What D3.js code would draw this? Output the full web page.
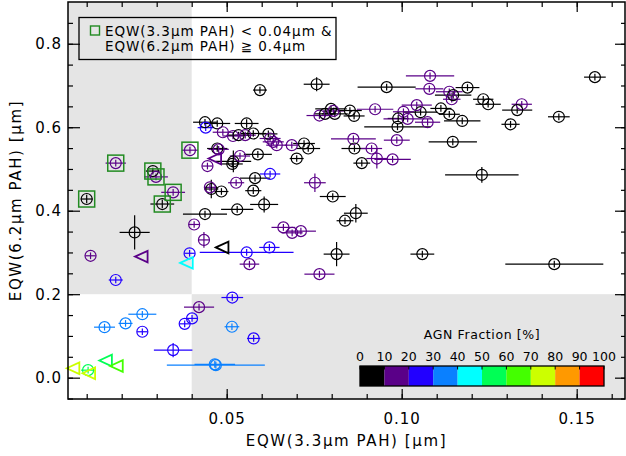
<!DOCTYPE html>
<html>
<head>
<meta charset="utf-8">
<script src="https://cdn.jsdelivr.net/npm/d3@7"></script>
<style>
  body { margin: 0; background: #fff; }
  text { font-family: "DejaVu Sans", sans-serif; fill: #000; }
</style>
</head>
<body>
<svg id="chart" width="626" height="456"></svg>
<script>
/* Data: EQW(3.3um PAH), EQW(6.2um PAH), their errors [um], AGN fraction [%] */
const eqw33 = [
  0.0100, 0.0183, 0.0289, 0.0298, 0.0316, 0.0347, 0.0395,
  0.0438, 0.0473, 0.0440, 0.0489, 0.0557, 0.0518, 0.0534, 0.0553, 0.0576, 0.0619,
  0.0624, 0.0633, 0.0643, 0.0686, 0.0721, 0.0733, 0.0700,
  0.0473, 0.0477, 0.0445, 0.0519, 0.0516, 0.0538, 0.0589, 0.0624, 0.0581, 0.0527,
  0.0576, 0.0456, 0.0452, 0.0485, 0.0752, 0.0803, 0.0438, 0.0530, 0.0607, 0.0869, 0.0838,
  0.0595, 0.0757, 0.0957, 0.0809, 0.0765, 0.0781, 0.0798, 0.0805, 0.0852, 0.0864,
  0.0924, 0.0862, 0.0865, 0.0914, 0.0886, 0.0929, 0.0974, 0.0986, 0.1081, 0.1079,
  0.1136, 0.1147, 0.1188, 0.1143, 0.1233, 0.1247, 0.1343, 0.1330, 0.1552, 0.1449,
  0.1311, 0.1173, 0.1136, 0.1112, 0.1054, 0.1043, 0.1005, 0.0990, 0.0988, 0.1017,
  0.1074, 0.1146, 0.1229,
  0.0237, 0.0111, 0.0183, 0.0394, 0.0407, 0.0435, 0.0662, 0.0687, 0.0712, 0.0814,
  0.0765, 0.0622, 0.0557, 0.0565, 0.1059, 0.1436,
  0.0516, 0.0421, 0.0259, 0.0211, 0.0151, 0.0259, 0.0401, 0.0380, 0.0515, 0.0577,
  0.0347, 0.0469, 0.0466, 0.0104
];
const eqw62 = [
  0.428, 0.514, 0.495, 0.481, 0.416, 0.444, 0.545,
  0.612, 0.609, 0.599, 0.588, 0.609, 0.579, 0.581, 0.581, 0.585, 0.584,
  0.573, 0.565, 0.557, 0.557, 0.561, 0.549, 0.525,
  0.549, 0.547, 0.507, 0.518, 0.512, 0.531, 0.535, 0.488, 0.478, 0.467,
  0.448, 0.452, 0.456, 0.446, 0.467, 0.434, 0.392, 0.403, 0.415, 0.394, 0.376,
  0.689, 0.703, 0.696, 0.632, 0.628, 0.632, 0.644, 0.639, 0.640, 0.627,
  0.643, 0.572, 0.549, 0.549, 0.514, 0.525, 0.523, 0.569, 0.723, 0.692,
  0.685, 0.677, 0.695, 0.667, 0.667, 0.655, 0.655, 0.641, 0.720, 0.625,
  0.607, 0.615, 0.631, 0.645, 0.636, 0.653, 0.637, 0.621, 0.601, 0.620,
  0.612, 0.565, 0.486,
  0.348, 0.292, 0.234, 0.298, 0.367, 0.330, 0.360, 0.347, 0.351, 0.296,
  0.248, 0.312, 0.300, 0.272, 0.296, 0.272,
  0.192, 0.169, 0.152, 0.130, 0.121, 0.110, 0.142, 0.129, 0.122, 0.094,
  0.066, 0.030, 0.032, 0.018
];
const err33 = [
  0.0017, 0.0029, 0.0020, 0.0034, 0.0034, 0.0034, 0.0023,
  0.0034, 0.0037, 0.0023, 0.0029, 0.0034, 0.0030, 0.0034, 0.0030, 0.0037, 0.0026,
  0.0030, 0.0030, 0.0030, 0.0020, 0.0031, 0.0034, 0.0020,
  0.0029, 0.0029, 0.0015, 0.0051, 0.0030, 0.0029, 0.0040, 0.0029, 0.0043, 0.0023,
  0.0023, 0.0020, 0.0015, 0.0020, 0.0031, 0.0037, 0.0063, 0.0046, 0.0040, 0.0034, 0.0024,
  0.0020, 0.0037, 0.0083, 0.0037, 0.0037, 0.0030, 0.0045, 0.0030, 0.0034, 0.0030,
  0.0052, 0.0064, 0.0037, 0.0030, 0.0024, 0.0030, 0.0052, 0.0037, 0.0069, 0.0040,
  0.0038, 0.0052, 0.0034, 0.0025, 0.0029, 0.0036, 0.0029, 0.0043, 0.0031, 0.0031,
  0.0026, 0.0052, 0.0030, 0.0030, 0.0048, 0.0043, 0.0030, 0.0030, 0.0095, 0.0069,
  0.0036, 0.0069, 0.0105,
  0.0043, 0.0015, 0.0020, 0.0015, 0.0015, 0.0015, 0.0034, 0.0030, 0.0043, 0.0037,
  0.0043, 0.0029, 0.0134, 0.0028, 0.0034, 0.0140,
  0.0031, 0.0043, 0.0040, 0.0020, 0.0030, 0.0015, 0.0015, 0.0015, 0.0021, 0.0019,
  0.0055, 0.0140, 0.0058, 0.0020
];
const err62 = [
  0.010, 0.008, 0.008, 0.008, 0.010, 0.008, 0.008,
  0.008, 0.008, 0.008, 0.008, 0.010, 0.008, 0.008, 0.008, 0.008, 0.008,
  0.008, 0.008, 0.008, 0.008, 0.008, 0.008, 0.008,
  0.008, 0.008, 0.008, 0.026, 0.008, 0.008, 0.008, 0.008, 0.008, 0.008,
  0.008, 0.022, 0.008, 0.008, 0.022, 0.008, 0.008, 0.008, 0.019, 0.022, 0.008,
  0.008, 0.017, 0.008, 0.008, 0.008, 0.008, 0.008, 0.008, 0.008, 0.008,
  0.008, 0.008, 0.008, 0.008, 0.008, 0.024, 0.008, 0.008, 0.008, 0.008,
  0.008, 0.008, 0.008, 0.008, 0.008, 0.008, 0.008, 0.008, 0.008, 0.008,
  0.008, 0.008, 0.008, 0.008, 0.008, 0.008, 0.008, 0.008, 0.008, 0.008,
  0.008, 0.008, 0.019,
  0.041, 0.008, 0.008, 0.008, 0.008, 0.019, 0.008, 0.008, 0.008, 0.029,
  0.008, 0.008, 0.008, 0.008, 0.008, 0.008,
  0.008, 0.008, 0.008, 0.008, 0.008, 0.008, 0.008, 0.008, 0.008, 0.008,
  0.017, 0.008, 0.008, 0.008
];
const agnFrac = [
  5, 15, 5, 15, 5, 15, 15,
  5, 5, 25, 15, 5, 15, 5, 15, 5, 5,
  15, 15, 15, 15, 5, 5, 5,
  5, 15, 15, 5, 5, 15, 5, 25, 5, 15,
  5, 5, 15, 5, 15, 5, 5, 5, 5, 5, 5,
  5, 5, 5, 5, 15, 5, 5, 15, 5, 5,
  15, 15, 5, 15, 5, 15, 15, 15, 15, 15,
  15, 5, 5, 15, 5, 5, 15, 5, 5, 5,
  5, 5, 5, 5, 5, 15, 15, 5, 5, 15,
  15, 5, 5,
  5, 15, 25, 25, 15, 15, 15, 15, 15, 5,
  15, 25, 25, 15, 5, 5,
  25, 15, 35, 35, 35, 25, 25, 25, 35, 25,
  25, 35, 35, 55
];

/* upper limits on EQW(3.3um PAH) */
const limit33 = [0.0466, 0.0256, 0.0385, 0.0487, 0.0061, 0.0106, 0.0154, 0.0185];
const limit62 = [0.525, 0.290, 0.275, 0.312, 0.0225, 0.0105, 0.041, 0.028];
const limitAgn = [15, 15, 45, 5, 75, 75, 55, 65];

/* colour bar */
const agnBins = [0, 10, 20, 30, 40, 50, 60, 70, 80, 90, 100];
const agnColors = ['#000000', '#5a0088', '#2200ff', '#0a80ff', '#00ffff',
                   '#00ff55', '#44ff00', '#ccff00', '#ff9900', '#ff0000'];

const cut33 = 0.04, cut62 = 0.2, sel62 = 0.4;
const xTicks = [0.05, 0.10, 0.15];
const yTicks = [0.0, 0.2, 0.4, 0.6, 0.8];
const legendLines = ['EQW(3.3\u03bcm PAH) < 0.04\u03bcm &', 'EQW(6.2\u03bcm PAH) \u2267 0.4\u03bcm'];

/* Chart */
const svg = d3.select('#chart');
const L = 68, R = 625, T = 2, B = 399;

const x = d3.scaleLinear().domain([0.00466, 0.1638]).range([L, R]);
const y = d3.scaleLinear().domain([-0.0511, 0.9]).range([B, T]);
const color = d3.scaleThreshold().domain(agnBins.slice(1, -1)).range(agnColors);

// shaded regions
svg.append('rect').attr('x', L).attr('y', T)
  .attr('width', x(cut33) - L).attr('height', y(cut62) - T).attr('fill', '#e5e5e5');
svg.append('rect').attr('x', x(cut33)).attr('y', y(cut62))
  .attr('width', R - x(cut33)).attr('height', B - y(cut62)).attr('fill', '#e5e5e5');

const idx = d3.range(eqw33.length);
const pts = svg.append('g');

pts.selectAll('.ex').data(idx).enter().append('line')
  .attr('x1', i => x(eqw33[i] - err33[i])).attr('x2', i => x(eqw33[i] + err33[i]))
  .attr('y1', i => y(eqw62[i])).attr('y2', i => y(eqw62[i]))
  .attr('stroke', i => color(agnFrac[i])).attr('stroke-width', 1.2);

pts.selectAll('.ey').data(idx).enter().append('line')
  .attr('x1', i => x(eqw33[i])).attr('x2', i => x(eqw33[i]))
  .attr('y1', i => y(eqw62[i] - err62[i])).attr('y2', i => y(eqw62[i] + err62[i]))
  .attr('stroke', i => color(agnFrac[i])).attr('stroke-width', 1.2);

pts.selectAll('circle').data(idx).enter().append('circle')
  .attr('cx', i => x(eqw33[i])).attr('cy', i => y(eqw62[i])).attr('r', 5.5)
  .attr('fill', 'none').attr('stroke', i => color(agnFrac[i])).attr('stroke-width', 1.2);

// upper limits
pts.selectAll('.lim').data(d3.range(limit33.length)).enter().append('path')
  .attr('d', 'M-6.3,0L6.3,-5.8L6.3,5.8Z')
  .attr('transform', i => `translate(${x(limit33[i])},${y(limit62[i])})`)
  .attr('fill', 'none').attr('stroke', i => color(limitAgn[i])).attr('stroke-width', 1.8);

// selected sources
const sel = idx.filter(i => eqw33[i] < cut33 && eqw62[i] >= sel62);
pts.selectAll('.sq').data(sel).enter().append('rect')
  .attr('x', i => x(eqw33[i]) - 8).attr('y', i => y(eqw62[i]) - 8)
  .attr('width', 16).attr('height', 16)
  .attr('fill', 'none').attr('stroke', '#228b22').attr('stroke-width', 1.5);

// legend
const lg = svg.append('g');
lg.append('rect').attr('x', 79).attr('y', 17.5).attr('width', 257).attr('height', 42)
  .attr('fill', 'none').attr('stroke', '#000').attr('stroke-width', 1.3);
lg.append('rect').attr('x', 90.5).attr('y', 26).attr('width', 9).attr('height', 9)
  .attr('fill', 'none').attr('stroke', '#228b22').attr('stroke-width', 1.4);
lg.selectAll('text').data(legendLines).enter().append('text')
  .attr('x', 105).attr('y', (d, i) => 35.5 + i * 15.5)
  .style('font-size', '13.5px').style('letter-spacing', '0.95px')
  .text(d => d);

// colour bar
const cb = d3.scaleLinear().domain([0, 100]).range([360, 604]);
const cg = svg.append('g');
cg.selectAll('rect').data(agnColors).enter().append('rect')
  .attr('x', (d, i) => cb(agnBins[i])).attr('y', 366)
  .attr('width', (d, i) => cb(agnBins[i + 1]) - cb(agnBins[i])).attr('height', 20)
  .attr('fill', d => d);
cg.append('rect').attr('x', cb(0)).attr('y', 366).attr('width', cb(100) - cb(0)).attr('height', 20)
  .attr('fill', 'none').attr('stroke', '#000').attr('stroke-width', 1.3);
cg.selectAll('.cbt').data(agnBins).enter().append('line')
  .attr('x1', d => cb(d)).attr('x2', d => cb(d)).attr('y1', 366).attr('y2', 369.5)
  .attr('stroke', '#000').attr('stroke-width', 1);
cg.selectAll('.cbl').data(agnBins).enter().append('text')
  .attr('x', d => cb(d)).attr('y', 361).attr('text-anchor', 'middle')
  .style('font-size', '12.5px').text(d => d);
cg.append('text').attr('x', 482).attr('y', 339).attr('text-anchor', 'middle')
  .style('font-size', '12.5px').style('letter-spacing', '0.6px').text('AGN Fraction [%]');

// axes
const xMinor = d3.range(0.01, 0.165, 0.01);
const yMinor = d3.range(-0.05, 0.9, 0.05);

function axisStyle(g) {
  g.select('.domain').remove();
  g.selectAll('line').attr('stroke', '#000').attr('stroke-width', 1.2);
  g.selectAll('text').style('font-size', '15px').style('letter-spacing', '1px')
    .style('font-family', '"DejaVu Sans", sans-serif');
}

svg.append('g').attr('transform', `translate(0,${B})`)
  .call(d3.axisBottom(x).tickValues(xTicks).tickSize(-10).tickPadding(14).tickFormat(d3.format('.2f')))
  .call(axisStyle);
svg.append('g').attr('transform', `translate(0,${B})`)
  .call(d3.axisBottom(x).tickValues(xMinor).tickSize(-5).tickFormat('')).call(axisStyle);
svg.append('g').attr('transform', `translate(0,${T})`)
  .call(d3.axisTop(x).tickValues(xTicks).tickSize(-10).tickFormat('')).call(axisStyle);
svg.append('g').attr('transform', `translate(0,${T})`)
  .call(d3.axisTop(x).tickValues(xMinor).tickSize(-5).tickFormat('')).call(axisStyle);

svg.append('g').attr('transform', `translate(${L},0)`)
  .call(d3.axisLeft(y).tickValues(yTicks).tickSize(-12).tickPadding(6).tickFormat(d3.format('.1f')))
  .call(axisStyle);
svg.append('g').attr('transform', `translate(${L},0)`)
  .call(d3.axisLeft(y).tickValues(yMinor).tickSize(-5).tickFormat('')).call(axisStyle);
svg.append('g').attr('transform', `translate(${R},0)`)
  .call(d3.axisRight(y).tickValues(yTicks).tickSize(-10).tickFormat('')).call(axisStyle);
svg.append('g').attr('transform', `translate(${R},0)`)
  .call(d3.axisRight(y).tickValues(yMinor).tickSize(-4).tickFormat('')).call(axisStyle);

// frame
svg.append('rect').attr('x', L).attr('y', T).attr('width', R - L).attr('height', B - T)
  .attr('fill', 'none').attr('stroke', '#000').attr('stroke-width', 1.5);

// titles
svg.append('text').attr('x', (L + R) / 2).attr('y', 446).attr('text-anchor', 'middle')
  .style('font-size', '15px').style('letter-spacing', '1.6px')
  .text('EQW(3.3\u03bcm PAH) [\u03bcm]');
svg.append('text').attr('transform', `translate(21,${(T + B) / 2}) rotate(-90)`)
  .attr('text-anchor', 'middle')
  .style('font-size', '15px').style('letter-spacing', '1.6px')
  .text('EQW(6.2\u03bcm PAH) [\u03bcm]');
</script>
</body>
</html>
